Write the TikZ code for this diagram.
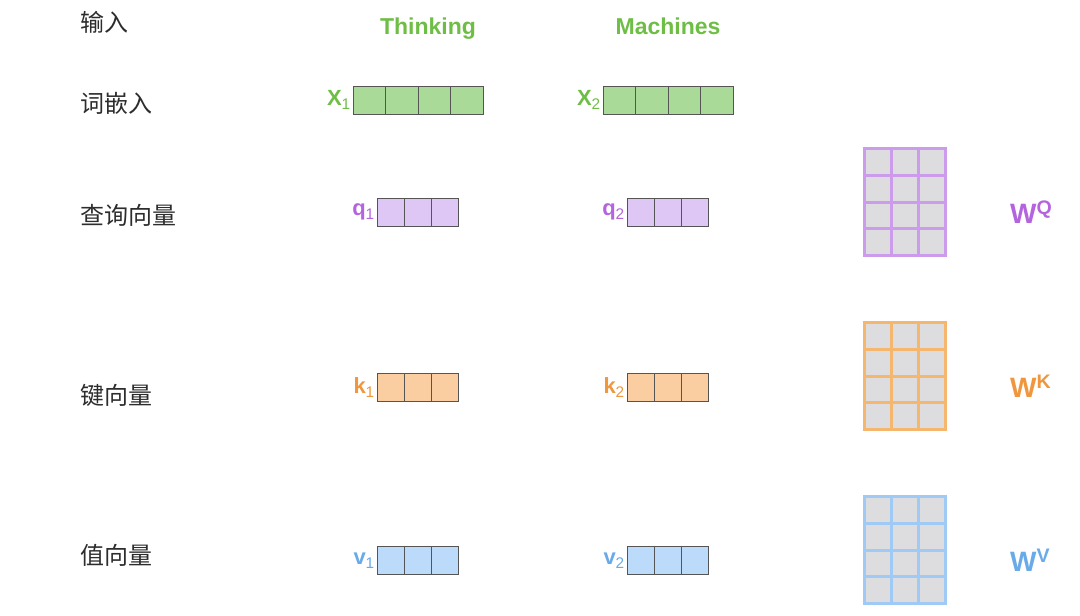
\documentclass[tikz,border=0pt]{standalone}
\usepackage{fontspec}
\setsansfont{Liberation Sans}
\newfontfamily\cjk{Noto Sans CJK SC}
\usetikzlibrary{positioning}
\definecolor{labgray}{RGB}{45,45,45}
\definecolor{cellborder}{RGB}{85,85,85}
\definecolor{wordgreen}{RGB}{110,190,70}
\definecolor{embfill}{RGB}{170,218,152}
\definecolor{qtext}{RGB}{180,100,222}
\definecolor{qfill}{RGB}{222,198,245}
\definecolor{qline}{RGB}{205,155,236}
\definecolor{ktext}{RGB}{240,150,60}
\definecolor{kfill}{RGB}{250,206,160}
\definecolor{kline}{RGB}{245,182,110}
\definecolor{vtext}{RGB}{105,170,232}
\definecolor{vfill}{RGB}{188,218,250}
\definecolor{vline}{RGB}{160,202,246}
\definecolor{mgray}{RGB}{221,221,224}
\tikzset{
  rowlabel/.style={anchor=west,inner sep=0pt,text=labgray,font=\cjk\fontsize{24}{24}\selectfont},
  word/.style={anchor=base,inner sep=0pt,text=wordgreen,font=\sffamily\bfseries\fontsize{23}{23}\selectfont},
  cell/.style={draw=cellborder,line width=0.9pt,minimum width=27.3pt,minimum height=28pt,inner sep=0pt,outer sep=0pt},
  veclabel/.style={inner sep=0pt,font=\sffamily\bfseries\fontsize{22}{22}\selectfont},
  mcell/.style={fill=mgray,line width=3pt,minimum width=27pt,minimum height=26.75pt,inner sep=0pt,outer sep=0pt},
  wlabel/.style={anchor=west,inner sep=0pt,font=\sffamily\bfseries\fontsize{28}{28}\selectfont}
}
\begin{document}
\begin{tikzpicture}[x=1pt,y=-1pt]
  \useasboundingbox (0,0) rectangle (1080,616);
  % row titles
  \node[rowlabel] (tin) at (80,22) {输入};
  \node[rowlabel] (temb) at (80,103) {词嵌入};
  \node[rowlabel] (tq) at (80,215) {查询向量};
  \node[rowlabel] (tk) at (80,395) {键向量};
  \node[rowlabel] (tv) at (80,555) {值向量};
  % input words
  \node[word] (word1) at (428,34) {Thinking};
  \node[word] (word2) at (668,34) {Machines};
  % embeddings
  \foreach \i/\xs in {1/353,2/603} {
    \node[cell,fill=embfill,minimum width=32.5pt,anchor=west] (x\i-1) at (\xs,100) {};
    \foreach \j [count=\k from 1] in {2,3,4}
      \node[cell,fill=embfill,minimum width=32.5pt,right=0pt of x\i-\k] (x\i-\j) {};
    \node[veclabel,text=wordgreen,left=2pt of x\i-1] (x\i) {X\textsubscript{\mdseries\i}};
  }
  % query, key, value vectors
  \foreach \nm/\yc/\fc/\tc in {q/212/qfill/qtext,k/387.5/kfill/ktext,v/560.5/vfill/vtext}
    \foreach \i/\xs in {1/377,2/627} {
      \node[cell,fill=\fc,anchor=west] (\nm\i-1) at (\xs,\yc) {};
      \node[cell,fill=\fc,right=0pt of \nm\i-1] (\nm\i-2) {};
      \node[cell,fill=\fc,right=0pt of \nm\i-2] (\nm\i-3) {};
      \node[veclabel,text=\tc,left=2pt of \nm\i-1] (\nm\i) {\nm\textsubscript{\mdseries\i}};
    }
  % weight matrices
  \foreach \m/\yt/\lc/\tc/\supl in {q/147/qline/qtext/Q,k/321/kline/ktext/K,v/495/vline/vtext/V} {
    \foreach \r in {1,...,4}
      \foreach \c in {1,2,3}
        \node[mcell,draw=\lc] (w\m-\r-\c) at ({864.5+27*(\c-0.5)},{\yt+1.5+26.75*(\r-0.5)}) {};
    \node[wlabel,text=\tc] (w\m) at (1010,{\yt+65}) {W\textsuperscript{\supl}};
  }
\end{tikzpicture}
\end{document}
